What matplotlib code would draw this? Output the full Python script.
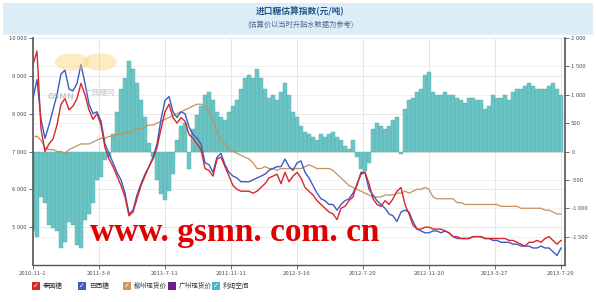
import numpy as np
import matplotlib
matplotlib.use("Agg")
import matplotlib.pyplot as plt
from matplotlib.patches import Rectangle, Circle
from matplotlib.ticker import FuncFormatter

plt.rcParams['font.family'] = ['Noto Sans CJK SC', 'DejaVu Sans']

# ---------------- data ----------------
title = "进口糖估算指数(元/吨)"
subtitle = "(估算价以当时升贴水数据为参考)"
series_names = ["泰国糖", "巴西糖", "柳州现货价", "广州现货价", "利润空间"]
date_labels = ["2010-11-1", "2011-3-8", "2011-7-11", "2011-11-11", "2012-3-16",
               "2012-7-20", "2012-11-20", "2013-3-27", "2013-7-29"]

thai = [9300, 9650, 7600, 7000, 7200, 7330, 7700, 8250, 8400, 8100,
        8200, 8400, 8800, 8500, 8100, 7850, 8000, 7700, 7100, 6800,
        6600, 6350, 6100, 5800, 5300, 5400, 5750, 6100, 6350, 6600,
        6800, 7100, 7600, 8050, 8250, 7900, 7750, 7900, 7800, 7450,
        7350, 7200, 7050, 6550, 6500, 6350, 6800, 6850, 6600, 6350,
        6100, 6000, 5950, 5950, 5950, 5900, 5950, 6050, 6150, 6300,
        6350, 6400, 6150, 6450, 6200, 6350, 6450, 6300, 6050, 5950,
        5850, 5700, 5600, 5500, 5400, 5350, 5200, 5500, 5550, 5700,
        5800, 6150, 6400, 6450, 6150, 5750, 5600, 5550, 5700, 5600,
        5750, 5950, 6050, 5600, 5350, 5050, 4950, 4950, 5000, 5000,
        4950, 4950, 4950, 4900, 4850, 4750, 4750, 4700, 4700, 4700,
        4750, 4750, 4750, 4700, 4700, 4700, 4700, 4700, 4700, 4650,
        4650, 4600, 4550, 4500, 4600, 4600, 4650, 4600, 4700, 4750,
        4650, 4550, 4650]

brazil = [8400, 8900, 7850, 7350, 7700, 8100, 8500, 9050, 9150, 8650,
          8600, 8800, 9300, 8800, 8250, 8000, 8050, 7800, 7200, 6950,
          6700, 6450, 6250, 5900, 5350, 5450, 5850, 6150, 6400, 6600,
          6850, 7200, 7850, 8350, 8450, 8050, 7900, 8050, 8000, 7650,
          7450, 7350, 7200, 6700, 6650, 6450, 6850, 6950, 6650, 6450,
          6350, 6300, 6200, 6200, 6200, 6250, 6300, 6350, 6400, 6500,
          6550, 6600, 6600, 6800, 6600, 6500, 6700, 6750, 6450, 6300,
          6100, 5900, 5750, 5700, 5600, 5600, 5450, 5600, 5700, 5750,
          5900, 6100, 6450, 6450, 6000, 5850, 5700, 5600, 5500, 5350,
          5300, 5150, 5400, 5450, 5400, 5150, 4950, 4900, 4850, 4850,
          4900, 4900, 4850, 4900, 4850, 4750, 4700, 4700, 4700, 4700,
          4750, 4750, 4750, 4700, 4700, 4650, 4650, 4600, 4600, 4600,
          4550, 4550, 4500, 4500, 4500, 4450, 4450, 4500, 4450, 4450,
          4350, 4250, 4450]

liuzhou = [7400, 7400, 7300, 7100, 7050, 7050, 7000, 7000, 6950, 7050,
           7100, 7150, 7200, 7200, 7200, 7250, 7300, 7350, 7350, 7400,
           7400, 7450, 7450, 7500, 7500, 7550, 7600, 7600, 7650, 7700,
           7700, 7750, 7800, 7850, 7900, 7950, 8000, 8050, 8100, 8150,
           8200, 8250, 8250, 8200, 8050, 7800, 7500, 7300, 7200, 7050,
           7000, 6950, 6900, 6850, 6800, 6700, 6550, 6550, 6600, 6550,
           6550, 6500, 6550, 6550, 6550, 6550, 6550, 6550, 6600, 6650,
           6600, 6550, 6550, 6550, 6550, 6500, 6400, 6300, 6200, 6100,
           6050, 6000, 5950, 5900, 5850, 5800, 5800, 5800, 5850, 5850,
           5850, 5900, 5900, 5950, 5900, 5950, 6000, 6000, 6050, 6000,
           5800, 5750, 5750, 5750, 5750, 5750, 5650, 5650, 5600, 5600,
           5600, 5600, 5600, 5600, 5600, 5600, 5600, 5550, 5550, 5550,
           5550, 5550, 5500, 5500, 5500, 5500, 5500, 5500, 5450, 5450,
           5400, 5350, 5350]

profit = [-1400, -1500, -800, -900, -1300, -1350, -1400, -1700, -1600, -1250,
          -1300, -1650, -1700, -1200, -1100, -900, -500, -450, -150, -100,
          300, 700, 1100, 1300, 1600, 1450, 1200, 900, 600, 150,
          -100, -500, -750, -850, -700, -400, 200, 450, 500, -300,
          400, 650, 800, 1000, 1050, 900, 700, 600, 550, 700,
          800, 900, 1100, 1300, 1350, 1300, 1450, 1300, 1100, 950,
          1000, 900, 1050, 1200, 1000, 700, 600, 450, 350, 300,
          250, 200, 300, 250, 300, 350, 250, 200, 100, 50,
          200, -100, -300, -350, -200, 400, 500, 450, 400, 450,
          550, 600, -50, 750, 900, 950, 1050, 1100, 1350, 1400,
          1050, 1000, 1000, 1050, 1000, 1000, 950, 900, 850, 950,
          950, 900, 900, 750, 800, 1000, 950, 950, 1000, 900,
          1050, 1100, 1100, 1150, 1200, 1150, 1100, 1100, 1100, 1150,
          1200, 1100, 1000]

left_ticks = [5000, 6000, 7000, 8000, 9000, 10000]
right_ticks = [-1500, -1000, -500, 0, 500, 1000, 1500, 2000]
watermark = "www. gsmn. com. cn"

# ---------------- figure ----------------
W, H = 596, 302
fig = plt.figure(figsize=(W / 100, H / 100), dpi=100)
fig.patch.set_facecolor('white')

def fx(px):
    return px / W

def fy(py):
    return 1 - py / H

# header band
fig.patches.append(Rectangle((fx(3), fy(34)), fx(590), 31 / H, transform=fig.transFigure,
                             facecolor='#dcedf8', edgecolor='none', zorder=0))
fig.patches.append(Rectangle((fx(3), fy(35)), fx(590), 1 / H, transform=fig.transFigure,
                             facecolor='#e8eef2', edgecolor='none', zorder=0))
fig.text(fx(300), fy(11), title, ha='center', va='center', fontsize=6.3,
         fontweight='bold', color='#24568a')
fig.text(fx(300), fy(25), subtitle, ha='center', va='center', fontsize=5.2,
         color='#4b6a88')

ax = fig.add_axes([fx(33), fy(265), fx(565 - 33), (265 - 38) / H])
ax2 = ax.twinx()
ax.set_zorder(ax2.get_zorder() + 1)
ax.patch.set_visible(False)

x = np.arange(len(thai))

ax2.bar(x, profit, width=0.9, color='#6cc4c4', edgecolor='#50b0b0', linewidth=0.3, zorder=2)
ax2.set_ylim(-2000, 2000)

ax.plot(x, liuzhou, color='#c4905e', lw=0.9, zorder=3)
ax.plot(x, brazil, color='#3b5cc4', lw=1.0, zorder=4)
ax.plot(x, thai, color='#d8262b', lw=1.0, zorder=5)
ax.set_ylim(4000, 10000)
ax.set_xlim(0, 133)

# grid
for v in left_ticks:
    ax2.axhline((v - 7000) / 1.5, color='#e4e4e4', lw=0.6, zorder=0)
for v in right_ticks:
    ax2.axhline(v, color='#ececec', lw=0.5, zorder=0)
xt = np.linspace(0, len(thai) - 1, len(date_labels))
for p in xt:
    ax2.axvline(p, color='#e2e2e2', lw=0.6, zorder=0)

fmt = FuncFormatter(lambda v, _: f"{int(v):,}".replace(',', ' '))
ax.set_yticks(left_ticks)
ax.yaxis.set_major_formatter(fmt)
ax2.set_yticks(right_ticks)
ax2.yaxis.set_major_formatter(fmt)
ax.set_xticks(xt)
ax.set_xticklabels(date_labels)

for a in (ax, ax2):
    a.tick_params(labelsize=4.3, colors='#555555', length=3, width=0.6, pad=1.5)
    for s in a.spines.values():
        s.set_visible(False)
ax.spines['left'].set_visible(True)
ax.spines['left'].set_color('#555555')
ax.spines['left'].set_linewidth(1.2)
ax.spines['bottom'].set_visible(True)
ax.spines['bottom'].set_color('#555555')
ax.spines['bottom'].set_linewidth(1.0)
ax2.spines['right'].set_visible(True)
ax2.spines['right'].set_color('#555555')
ax2.spines['right'].set_linewidth(1.2)

# logo watermark
fig.patches.append(Circle((fx(72), fy(62)), 17 / W, transform=fig.transFigure,
                          facecolor='#f7d57a', alpha=0.45, edgecolor='none', zorder=1))
fig.patches.append(Circle((fx(100), fy(62)), 17 / W, transform=fig.transFigure,
                          facecolor='#f7d57a', alpha=0.45, edgecolor='none', zorder=1))
fig.text(fx(47), fy(96), "GSMN", fontsize=6.5, color='#9aa3ad', alpha=0.6,
         va='center', fontweight='bold')
fig.text(fx(85), fy(93), "广西糖网", fontsize=5.5, color='#9aa3ad', alpha=0.6, va='center')

# site watermark
fig.text(fx(90), fy(232), watermark, ha='left', va='center', fontsize=24,
         fontweight='bold', color='#e00000', family='Liberation Serif', zorder=10)

# legend
leg_colors = ['#d8262b', '#3b5cc4', '#d0955e', '#6a1f8a', '#4bb8c8']
leg_x = [32, 78, 123, 168, 212]
for c, lx, name in zip(leg_colors, leg_x, series_names):
    fig.patches.append(Rectangle((fx(lx), fy(290)), 8 / W, 8 / H, transform=fig.transFigure,
                                 facecolor=c, edgecolor='none', zorder=5))
    if name != "广州现货价":
        fig.text(fx(lx + 4), fy(286), "✓", ha='center', va='center', fontsize=5,
                 color='white', family='DejaVu Sans', zorder=6)
    fig.text(fx(lx + 11), fy(286), name, ha='left', va='center', fontsize=4.8,
             color='#333333')

fig.savefig("out.png", dpi=100)
